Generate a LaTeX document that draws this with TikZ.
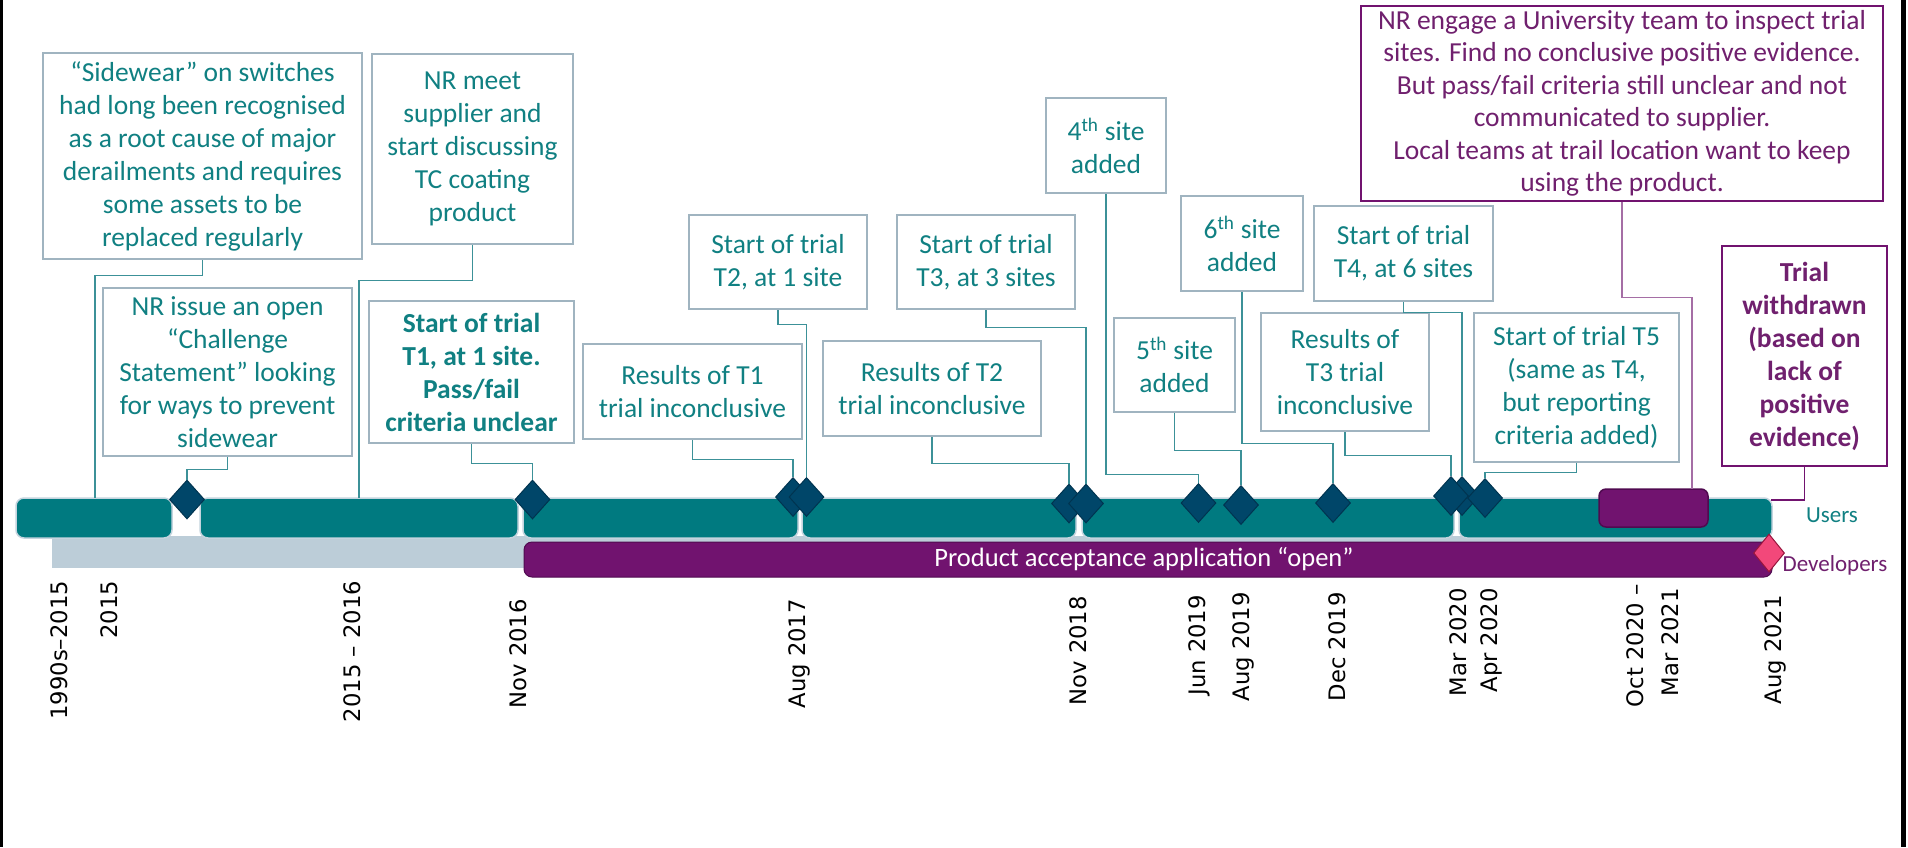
\documentclass[tikz,border=0pt]{standalone}
\usepackage{fontspec}
\setmainfont{Carlito}
\newfontfamily\datefont{DejaVu Sans}
\usetikzlibrary{shapes.geometric}

\definecolor{tealtext}{RGB}{16,128,130}
\definecolor{barteal}{RGB}{0,122,128}
\definecolor{barline}{RGB}{196,212,222}
\definecolor{boxline}{RGB}{160,180,192}
\definecolor{connteal}{RGB}{60,145,152}
\definecolor{diamondfill}{RGB}{0,70,105}
\definecolor{diamondline}{RGB}{0,52,80}
\definecolor{purplebar}{RGB}{113,19,111}
\definecolor{purpledark}{RGB}{80,10,80}
\definecolor{purpletext}{RGB}{112,32,110}
\definecolor{purpleconn}{RGB}{165,110,165}
\definecolor{greybar}{RGB}{188,205,216}
\definecolor{pinkfill}{RGB}{242,72,122}
\definecolor{pinkline}{RGB}{150,20,60}

\begin{document}
\begin{tikzpicture}[x=1pt,y=-1pt,
  box/.style={draw=boxline, line width=2.5pt, fill=white, align=center,
    inner sep=0pt, text=tealtext, font=\fontsize{27.5}{33}\selectfont},
  pbox/.style={box, draw=purplebar, text=purpletext},
  milestone/.style={diamond, draw=diamondline, line width=1pt, fill=diamondfill,
    minimum width=35pt, minimum height=39pt, inner sep=0pt},
  conn/.style={draw=connteal, line width=1.5pt},
  pconn/.style={draw=purpleconn, line width=1.5pt},
  datelbl/.style={rotate=90, anchor=base east, inner sep=0pt,
    font=\datefont\fontsize{22.7}{26}\selectfont},
  seg/.style={fill=barteal, draw=barline, line width=1.5pt, rounded corners=8pt},
  sidelbl/.style={inner sep=0pt, font=\fontsize{23}{26}\selectfont}
]
% canvas and frame strips
\useasboundingbox (0,0) rectangle (1908,847);
\fill[white] (0,0) rectangle (1908,847);
\fill[black] (0,0) rectangle (3,847);
\fill[black] (1901,0) rectangle (1906,847);

% developer lane: pre-application period and the open application
\fill[greybar] (52,536) rectangle (1770,568);
\path[fill=purplebar, draw=purpledark, line width=1pt, rounded corners=8pt]
  (524,542) rectangle (1772,577);
\node[text=white, inner sep=0pt, font=\fontsize{26.5}{30}\selectfont] (pa)
  at (1144,559) {Product acceptance application “open”};

% user lane segments
\path[seg] (16,498) rectangle (172,538);
\path[seg] (200,498) rectangle (518,538);
\path[seg] (523,498) rectangle (798,538);
\path[seg] (802,498) rectangle (1076,538);
\path[seg] (1082,498) rectangle (1454,538);
\path[seg] (1459,498) rectangle (1772,538);

% University inspection period
\path[fill=purplebar, draw=purpledark, line width=1.5pt, rounded corners=7pt]
  (1599,489) rectangle (1708,527);

\coordinate (t1) at (95,498);
\coordinate (t2) at (359,498);
\coordinate (insp) at (1692,489);
\coordinate (endbar) at (1771,500);

% lane labels
\node[sidelbl, text=tealtext] (users) at (1832,515) {Users};
\node[sidelbl, text=purpletext] (devs) at (1835,565) {Developers};

% milestones
\node[milestone] (d1) at (187,499.5) {};
\node[milestone] (d2) at (532.5,499.5) {};
\node[milestone] (d3) at (793,497) {};
\node[milestone] (d4) at (806.5,497) {};
\node[milestone] (d5) at (1069,503.5) {};
\node[milestone] (d6) at (1086,503.5) {};
\node[milestone] (d7) at (1198.5,503) {};
\node[milestone] (d8) at (1241,505) {};
\node[milestone] (d9) at (1333,503) {};
\node[milestone] (d11) at (1462,496) {};
\node[milestone] (d10) at (1451,496) {};
\node[milestone] (d12) at (1485,498) {};
\node[milestone, fill=pinkfill, draw=pinkline, minimum width=31pt, minimum height=38pt]
  (wd) at (1769,553) {};

% event boxes
\node[box, minimum width=319pt, minimum height=206pt] (b1) at (202.5,156)
  {“Sidewear” on switches\\had long been recognised\\as a root cause of major\\derailments and requires\\some assets to be\\replaced regularly};
\node[box, minimum width=201pt, minimum height=190pt] (b2) at (472.5,149)
  {NR meet\\supplier and\\start discussing\\TC coating\\product};
\node[box, minimum width=249pt, minimum height=168pt] (b3) at (227.5,372)
  {NR issue an open\\“Challenge\\Statement” looking\\for ways to prevent\\sidewear};
\node[box, minimum width=205pt, minimum height=142pt, font=\bfseries\fontsize{27.5}{33}\selectfont]
  (b4) at (471.5,372)
  {Start of trial\\T1, at 1 site.\\Pass/fail\\criteria unclear};
\node[box, minimum width=219pt, minimum height=95pt] (b5) at (692.5,391.5)
  {Results of T1\\trial inconclusive};
\node[box, minimum width=178pt, minimum height=94pt] (b6) at (778,262)
  {Start of trial\\T2, at 1 site};
\node[box, minimum width=218pt, minimum height=95pt] (b7) at (932,388.5)
  {Results of T2\\trial inconclusive};
\node[box, minimum width=178pt, minimum height=94pt] (b8) at (986,262)
  {Start of trial\\T3, at 3 sites};
\node[box, minimum width=120pt, minimum height=95pt] (b9) at (1106,145.5)
  {4\textsuperscript{th} site\\added};
\node[box, minimum width=121pt, minimum height=94pt] (b10) at (1174.5,365)
  {5\textsuperscript{th} site\\added};
\node[box, minimum width=122pt, minimum height=95pt] (b11) at (1242,243.5)
  {6\textsuperscript{th} site\\added};
\node[box, minimum width=168pt, minimum height=118pt] (b12) at (1345,372)
  {Results of\\T3 trial\\inconclusive};
\node[box, minimum width=179pt, minimum height=95pt] (b13) at (1403.5,253.5)
  {Start of trial\\T4, at 6 sites};
\node[box, minimum width=205pt, minimum height=149pt] (b14) at (1576.5,387.5)
  {Start of trial T5\\(same as T4,\\but reporting\\criteria added)};
\node[pbox, minimum width=522pt, minimum height=195pt, font=\fontsize{27.5}{32.5}\selectfont]
  (b15) at (1622,103.5)
  {NR engage a University team to inspect trial\\sites. Find no conclusive positive evidence.\\But pass/fail criteria still unclear and not\\communicated to supplier.\\Local teams at trail location want to keep\\using the product.};
\node[pbox, minimum width=165pt, minimum height=220pt, font=\bfseries\fontsize{27.5}{33}\selectfont]
  (b16) at (1804.5,356)
  {Trial\\withdrawn\\(based on\\lack of\\positive\\evidence)};

% connectors from boxes to the lanes
\draw[conn] (b1.south) -- ++(0,15) -| (t1);
\draw[conn] (b2.south) -- ++(0,35) -| (t2);
\draw[conn] (b3.south) -- ++(0,12) -| (d1.north);
\draw[conn] (b4.south) -- ++(0,19) -| (d2.north);
\draw[conn] (b5.south) -- ++(0,19) -| (d3.north);
\draw[conn] (b6.south) -- ++(0,14) -| (d4.north);
\draw[conn] (b7.south) -- ++(0,26) -| (d5.north);
\draw[conn] (b8.south) -- ++(0,17) -| (d6.north);
\draw[conn] (b9.south) -- ++(0,280) -| (d7.north);
\draw[conn] (b10.south) -- ++(0,37) -| (d8.north);
\draw[conn] (b11.south) -- ++(0,151) -| (d9.north);
\draw[conn] (b12.south) -- ++(0,23) -| (d10.north);
\draw[conn] (b13.south) -- ++(0,10) -| (d11.north);
\draw[conn] (b14.south) -- ++(0,9) -| (d12.north);
\draw[pconn] (b15.south) -- ++(0,95) -| (insp);
\draw[pconn, draw=purplebar] (b16.south) |- (endbar);

% dates
\node[datelbl] (y1) at (67.5,580.7) {1990s–2015};
\node[datelbl] (y2) at (117.5,580.7) {2015};
\node[datelbl] (y3) at (360.5,580.7) {2015 – 2016};
\node[datelbl] (y4) at (526,599) {Nov 2016};
\node[datelbl] (y5) at (805.5,599) {Aug 2017};
\node[datelbl] (y6) at (1086.5,596) {Nov 2018};
\node[datelbl] (y7) at (1205.5,595) {Jun 2019};
\node[datelbl] (y8) at (1249.5,592) {Aug 2019};
\node[datelbl] (y9) at (1345.5,592) {Dec 2019};
\node[datelbl] (y10) at (1466.5,588) {Mar 2020};
\node[datelbl] (y11) at (1497.5,588) {Apr 2020};
\node[datelbl] (y12) at (1643.5,584) {Oct 2020 –};
\node[datelbl] (y13) at (1678.5,588) {Mar 2021};
\node[datelbl] (y14) at (1781.5,595) {Aug 2021};
\end{tikzpicture}
\end{document}
